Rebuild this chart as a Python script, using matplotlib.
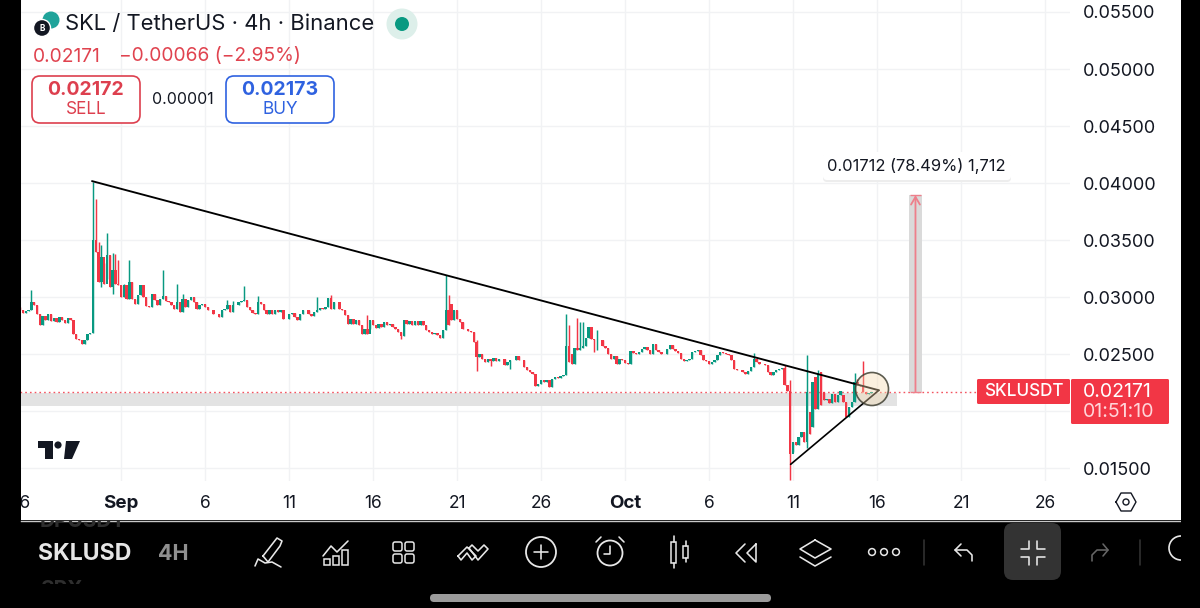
#!/usr/bin/env python3
"""SKL / TetherUS 4h chart, phone screenshot look"""

import matplotlib
matplotlib.use('Agg')
import matplotlib.pyplot as plt
from matplotlib.patches import Rectangle, FancyBboxPatch, Circle

plt.rcParams['font.family'] = ['Inter', 'DejaVu Sans']

# 4h closes, first candle is Aug 26 00:00
closes = [
    .02886, .02863, .02880, .02892, .02959, .02936, .02857, .02761, .02834, .02804,
    .02851, .02790, .02822, .02784, .02828, .02804, .02775, .02822, .02799, .02682,
    .02638, .02623, .02588, .02623, .02676, .02688, .03500, .03398, .03135, .03354,
    .03120, .03369, .03091, .03237, .03120, .03106, .03003, .03106, .02989, .03135,
    .02989, .02945, .03018, .03106, .03003, .02921, .02916, .03032, .02974, .02930,
    .02989, .03009, .02968, .02959, .02930, .02901, .02959, .02872, .02989, .02916,
    .02980, .03003, .02959, .02901, .02930, .02939, .02916, .02892, .02886, .02857,
    .02851, .02828, .02886, .02901, .02930, .02872, .02930, .02936, .02956, .02965,
    .02974, .02916, .02892, .02863, .02857, .02959, .02945, .02886, .02857, .02886,
    .02857, .02886, .02872, .02886, .02813, .02807, .02857, .02863, .02828, .02799,
    .02857, .02886, .02892, .02857, .02837, .02872, .02892, .02910, .02901, .02916,
    .02998, .02901, .02960, .02955, .02901, .02887, .02843, .02764, .02813, .02770,
    .02799, .02755, .02676, .02726, .02676, .02805, .02755, .02732, .02770, .02740,
    .02784, .02755, .02764, .02740, .02726, .02697, .02659, .02805, .02770, .02790,
    .02755, .02793, .02761, .02790, .02755, .02711, .02697, .02676, .02688, .02667,
    .02647, .02711, .02887, .02755, .02805, .02887, .02813, .02784, .02726, .02720,
    .02705, .02697, .02609, .02477, .02501, .02457, .02433, .02463, .02439, .02469,
    .02439, .02457, .02463, .02404, .02433, .02454, .02450, .02483, .02448, .02454,
    .02390, .02360, .02346, .02331, .02220, .02243, .02279, .02258, .02279, .02214,
    .02287, .02302, .02296, .02308, .02317, .02571, .02433, .02419, .02559, .02542,
    .02559, .02571, .02647, .02740, .02638, .02623, .02629, .02623, .02571, .02559,
    .02507, .02463, .02483, .02419, .02463, .02454, .02425, .02419, .02530, .02512,
    .02506, .02521, .02550, .02565, .02541, .02506, .02588, .02536, .02521, .02506,
    .02501, .02550, .02579, .02550, .02530, .02512, .02463, .02442, .02448, .02463,
    .02521, .02530, .02541, .02492, .02448, .02443, .02413, .02433, .02454, .02492,
    .02521, .02512, .02501, .02492, .02448, .02375, .02366, .02362, .02346, .02331,
    .02354, .02389, .02463, .02433, .02419, .02413, .02404, .02346, .02316, .02346,
    .02366, .02375, .02381, .02229, .02179, .01629, .01732, .01703, .01776, .01819,
    .01732, .02170, .01805, .02258, .02024, .02331, .02053, .02097, .02112, .02074,
    .02156, .02083, .02141, .02179, .02083, .01951, .02039, .02083, .02258, .02229,
    .02220, .02170, .02156, .02162, .02171,
]

# candles whose open sits away from the previous close
gap_opens = {154: .02945, 197: .02501, 282: .01995, 283: .01863, 284: .02302,
             286: .02346, 287: .02170, 294: .02141}

spike_highs = {4: .03062, 26: .04012, 27: .03857, 28: .03486, 29: .03456, 30: .03296,
               31: .03559, 33: .03389, 34: .03383, 35: .03325, 37: .03120, 39: .03325,
               51: .03237, 56: .03120, 58: .03027, 74: .02974, 76: .02968, 80: .03097,
               85: .03009, 106: .03003, 111: .03018, 124: .02843, 152: .03193,
               153: .03018, 163: .02623, 195: .02857, 196: .02761, 199: .02822,
               200: .02784, 201: .02784, 206: .02711, 262: .02512, 273: .02404,
               275: .02273, 281: .02492, 285: .02366, 298: .02340, 299: .02287,
               301: .02439}
spike_lows = {29: .03091, 31: .03164, 33: .03032, 125: .02726, 136: .02630, 163: .02352,
              168: .02395, 175: .02375, 205: .02521, 206: .02536, 275: .01396,
              276: .01644, 281: .01682}

y_ticks = [.015, .02, .025, .03, .035, .04, .045, .05, .055]
y_labels = ['0.01500', '', '0.02500', '0.03000', '0.03500', '0.04000', '0.04500', '0.05000', '0.05500']
# days after Sep 1
x_ticks = [-6, 0, 5, 10, 15, 20, 25, 30, 35, 40, 45, 50, 55]
x_labels = ['26', 'Sep', '6', '11', '16', '21', '26', 'Oct', '6', '11', '16', '21', '26']

last_price = 0.02171
target_price = 0.03883
zone_low, zone_high = 0.02044, 0.02158
# trend lines as (day, price)
upper_line = [(-1.726, .04018), (45.11, .02185)]
lower_line = [(39.86, .01536), (45.11, .02185)]
arrow_day = 47.29

TEAL = '#089981'
RED = '#F23645'
GRID = '#F1F2F4'

fig = plt.figure(figsize=(12, 6.08), dpi=100, facecolor='black')

# white chart sheet behind everything
bg = fig.add_axes([0, 0, 1, 1], zorder=0)
bg.set_xlim(0, 1200)
bg.set_ylim(608, 0)
bg.axis('off')
bg.add_patch(Rectangle((21, 0), 1160, 520, fc='white', ec='none'))

ax = fig.add_axes([20 / 1200, 127 / 608, 1050 / 1200, 481 / 608], zorder=1)
ax.patch.set_alpha(0)
ax.set_xlim(-6.012, 56.488)
ax.set_ylim(0.0139, 0.05605)
for s in ax.spines.values():
    s.set_visible(False)
ax.yaxis.tick_right()
ax.set_yticks(y_ticks)
ax.set_yticklabels(y_labels)
ax.set_xticks(x_ticks)
ax.set_xticklabels(x_labels)
ax.tick_params(length=0, labelcolor='#131722')
ax.tick_params(axis='y', pad=9, labelsize=13)
ax.tick_params(axis='x', pad=10, labelsize=12.5)
for lab in ax.get_xticklabels():
    if lab.get_text() in ('Sep', 'Oct'):
        lab.set_fontweight('bold')
        lab.set_fontsize(13.5)
ax.grid(True, color=GRID, lw=1)
ax.set_axisbelow(True)

# support zone and last price line
ax.add_patch(Rectangle((-6.012, zone_low), 46.2 + 6.012, zone_high - zone_low,
                       fc='#E3E3E3', ec='none', zorder=1))
ax.axhline(last_price, color=RED, lw=1, ls=(0, (1.2, 2.2)), alpha=0.85, zorder=2)

# candles
opens = [closes[0] + 0.00025] + closes[:-1]
for i, c in enumerate(closes):
    day = -6 + i / 6
    o = gap_opens.get(i, opens[i])
    col = TEAL if c >= o else RED
    hi = spike_highs.get(i, max(o, c))
    lo = spike_lows.get(i, min(o, c))
    ax.vlines(day, lo, hi, color=col, lw=1.05, zorder=3)
    ax.bar(day, abs(c - o), bottom=min(o, c), width=0.14, color=col, lw=0, zorder=3)

# triangle
ax.plot(*zip(*upper_line), color='black', lw=1.35, zorder=5, solid_capstyle='round')
ax.plot(*zip(*lower_line), color='black', lw=1.2, zorder=5, solid_capstyle='round')

# projected move
ax.add_patch(Rectangle((arrow_day - 0.38, last_price), 0.76, target_price + 0.00012 - last_price,
                       fc='#DADADA', ec='none', zorder=2))
ax.annotate('', xy=(arrow_day, target_price + 0.00012), xytext=(arrow_day, last_price),
            arrowprops=dict(arrowstyle='->,head_width=0.32,head_length=0.55', color='#EE7F8B', lw=1.3,
                            shrinkA=0, shrinkB=0), zorder=4)
ax.hlines([last_price, target_price + 0.00012], arrow_day - 0.33, arrow_day + 0.33,
          color='#EE7F8B', lw=1, zorder=4)

# everything on top, in screen pixels
ui = fig.add_axes([0, 0, 1, 1], zorder=2)
ui.set_xlim(0, 1200)
ui.set_ylim(608, 0)
ui.axis('off')
ui.patch.set_alpha(0)
ui.add_patch(Rectangle((0, 0), 21, 608, fc='black', ec='none'))
ui.add_patch(Rectangle((1181, 0), 19, 608, fc='black', ec='none'))

# marker circle on the apex
ui.add_patch(Circle((872, 389), 16.5, fc=(0.96, 0.85, 0.68, 0.38), ec=(0.25, 0.25, 0.2, 0.85), lw=1.2))

# header
ui.add_patch(Circle((51, 20), 8.5, fc='#1FA39A', ec='none'))
ui.add_patch(Circle((42, 28), 8.5, fc='#131722', ec='white', lw=1))
ui.text(42, 28.5, 'B', color='white', fontsize=6, ha='center', va='center', fontweight='bold')
ui.text(65, 24.5, 'SKL / TetherUS · 4h · Binance', fontsize=15.85, color='#131722', va='center')
ui.add_patch(Circle((402, 24), 15.5, fc='#DDEFEA', ec='none'))
ui.add_patch(Circle((402, 24), 7, fc='#089981', ec='none'))
ui.text(33, 56.5, '0.02171', fontsize=13.8, color='#E0434F', va='center')
ui.text(119, 56.5, '−0.00066 (−2.95%)', fontsize=13.8, color='#E0434F', va='center')


def trade_box(x, w, color, price, word):
    ui.add_patch(FancyBboxPatch((x, 76), w, 47, boxstyle='round,pad=0,rounding_size=8',
                                fc='white', ec=color, lw=1.2))
    ui.text(x + w / 2, 90, price, fontsize=14, color=color, ha='center', va='center', fontweight='bold')
    ui.text(x + w / 2, 110, word, fontsize=12.4, color=color, ha='center', va='center')


trade_box(32, 108, '#DD3F4E', '0.02172', 'SELL')
trade_box(226, 108, '#2F62E0', '0.02173', 'BUY')
ui.text(183, 99, '0.00001', fontsize=11.4, color='#131722', ha='center', va='center')

# measure label
ui.add_patch(FancyBboxPatch((823, 154), 188, 28, boxstyle='round,pad=0,rounding_size=4',
                            fc='#EDEDED', ec='none'))
ui.add_patch(FancyBboxPatch((823, 152), 188, 28, boxstyle='round,pad=0,rounding_size=4',
                            fc='white', ec='none'))
ui.text(916.5, 166, '0.01712 (78.49%) 1,712', fontsize=11.9, color='#131722', ha='center', va='center')

# price tags
ui.add_patch(FancyBboxPatch((977, 379), 93, 25, boxstyle='round,pad=0,rounding_size=1.5', fc='#F23645', ec='none'))
ui.add_patch(FancyBboxPatch((1071, 379), 98, 45, boxstyle='round,pad=0,rounding_size=1.5', fc='#F23645', ec='none'))
ui.text(1023.5, 392, 'SKLUSDT', fontsize=12.3, color='white', ha='center', va='center', fontweight='medium')
ui.text(1083, 392, '0.02171', fontsize=14, color='white', va='center')
ui.text(1083, 412, '01:51:10', fontsize=14, color='#FFD5D9', va='center')

# TV logo
ui.add_patch(Rectangle((38, 441), 15, 6.5, fc='#131722', ec='none'))
ui.add_patch(Rectangle((45, 441), 7.5, 18, fc='#131722', ec='none'))
ui.add_patch(Circle((58, 445), 3.6, fc='#131722', ec='none'))
ui.fill([66, 74, 80, 72, 64], [441, 441, 441, 459, 459], color='#131722', lw=0)

# settings hexagon under the price scale
ui.plot([1116, 1121, 1131, 1136, 1131, 1121, 1116],
        [502, 493, 493, 502, 511, 511, 502], color='#131722', lw=1)
ui.add_patch(Circle((1126, 502), 3, fc='none', ec='#131722', lw=1))

# toolbar: neighbouring list rows are cut off above and below
row_clip = Rectangle((21, 521), 300, 63, transform=ui.transData)
for label, ypos in [('DPUSDT', 521), ('SPX', 590)]:
    t = ui.text(40, ypos, label, fontsize=15, color='#2E2E2E', va='center', fontweight='bold')
    t.set_clip_path(row_clip)
    t.set_clip_on(True)
ui.plot([21, 1181], [520.5, 520.5], color='#c8c8c8', lw=1)
ui.text(38, 553.5, 'SKLUSD', fontsize=16.6, color='#E6E6E6', va='center', fontweight='bold')
# the symbol name fades out to the right
for k in range(16):
    ui.add_patch(Rectangle((118 + k, 535), 1.2, 38, fc='black', ec='none', alpha=min(1, 0.08 + k * 0.065)))
ui.add_patch(Rectangle((134, 535), 10, 38, fc='black', ec='none'))
ui.text(158, 553.5, '4H', fontsize=15.5, color='#8F8F8F', va='center', fontweight='bold')
ui.add_patch(FancyBboxPatch((1004, 523), 57, 57, boxstyle='round,pad=0,rounding_size=9', fc='#333333', ec='none'))
ui.add_patch(FancyBboxPatch((430, 594), 341, 8, boxstyle='round,pad=0,rounding_size=4', fc='#9B9B9B', ec='none'))

ICON = '#E8E8E8'


def stroke(xs, ys, color=ICON, lw=1.15):
    ui.plot(xs, ys, color=color, lw=lw, solid_capstyle='round', solid_joinstyle='round')


# pen
stroke([263, 277, 282, 280, 268, 263], [556, 538, 541, 546, 562, 556])
stroke([255, 258, 265, 272, 281], [566, 559, 563, 562, 567])
# chart with bars
for x0, h in [(324, 6), (333, 9), (342, 15)]:
    ui.add_patch(Rectangle((x0, 565 - h), 6, h, fc='none', ec=ICON, lw=1.1))
stroke([323, 331, 337, 348], [556, 546, 552, 541])
# grid
for x0 in (393, 405):
    for y0 in (542, 554):
        ui.add_patch(FancyBboxPatch((x0, y0), 9, 9, boxstyle='round,pad=0,rounding_size=2', fc='none', ec=ICON, lw=1.1))
# chevrons
stroke([458, 467, 476, 472, 467, 461, 458], [556, 547, 556, 560, 553, 560, 556])
stroke([469, 472, 478, 484, 488, 478, 469], [548, 545, 551, 545, 549, 560, 548])
# plus
ui.add_patch(Circle((541, 552), 15, fc='none', ec=ICON, lw=1.3))
stroke([534, 548], [552, 552])
stroke([541, 541], [545, 559])
# alarm clock
ui.add_patch(Circle((610, 553), 12.5, fc='none', ec=ICON, lw=1.3))
stroke([610, 610, 604], [546, 554, 554])
stroke([596, 601], [542, 537])
stroke([619, 624], [537, 542])
# candles
ui.add_patch(Rectangle((671, 542), 5, 21, fc='none', ec=ICON, lw=1.1))
ui.add_patch(Rectangle((683, 546), 5, 12, fc='none', ec=ICON, lw=1.1))
stroke([673.5, 673.5], [536, 542])
stroke([673.5, 673.5], [563, 568])
stroke([685.5, 685.5], [541, 546])
stroke([685.5, 685.5], [558, 562])
# rewind
stroke([745, 736, 745], [544, 553, 562])
stroke([756, 747, 756, 756], [544, 553, 562, 544])
# layers
stroke([815, 831, 815, 800, 815], [540, 549, 558, 549, 540])
stroke([800, 815, 831], [557, 566, 557])
# dots
for cx in (872, 884, 896):
    ui.add_patch(Circle((cx, 552), 3.4, fc='none', ec=ICON, lw=1.1))
stroke([924, 924], [540, 565], color='#333333')
# undo
stroke([972, 972, 967, 955], [561, 555, 550, 550])
stroke([961, 955, 961], [544, 550, 556])
# collapse arrows
stroke([1021, 1029, 1029], [549, 549, 541])
stroke([1045, 1037, 1037], [549, 549, 541])
stroke([1021, 1029, 1029], [557, 557, 565])
stroke([1045, 1037, 1037], [557, 557, 565])
# redo, greyed out
stroke([1092, 1092, 1097, 1108], [561, 555, 550, 550], color='#666666')
stroke([1103, 1108, 1103], [544, 550, 556], color='#666666')
stroke([1140, 1140], [540, 565], color='#333333')
# bulb, cut by the screen edge
ui.add_patch(Circle((1181, 548), 12, fc='none', ec=ICON, lw=1.2))
ui.add_patch(Rectangle((1181, 520), 19, 88, fc='black', ec='none', zorder=5))

fig.savefig('out.png', dpi=100, facecolor='black')
